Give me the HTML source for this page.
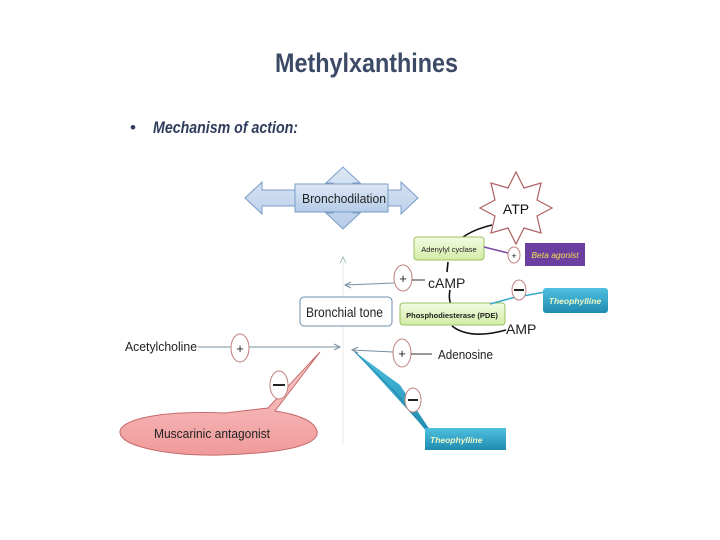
<!DOCTYPE html>
<html><head><meta charset="utf-8"><style>
body{margin:0;background:#fff}
svg{display:block;font-family:"Liberation Sans",sans-serif}
</style></head><body>
<svg width="720" height="540" viewBox="0 0 720 540">
<defs>
<linearGradient id="bl" x1="0" y1="0" x2="0" y2="1"><stop offset="0" stop-color="#dde8f6"/><stop offset="1" stop-color="#b5cbe8"/></linearGradient>
<linearGradient id="gr" x1="0" y1="0" x2="0" y2="1"><stop offset="0" stop-color="#f4fbe4"/><stop offset="1" stop-color="#d3eca5"/></linearGradient>
<linearGradient id="tl" x1="0" y1="0" x2="0" y2="1"><stop offset="0" stop-color="#4fc0e0"/><stop offset="1" stop-color="#1f8bb0"/></linearGradient>
<linearGradient id="pk" x1="0" y1="0" x2="0" y2="1"><stop offset="0" stop-color="#fbd0d0"/><stop offset="1" stop-color="#f09a9a"/></linearGradient>
</defs>
<text x="275" y="72" font-size="27" font-weight="bold" fill="#3d4a66" textLength="183" lengthAdjust="spacingAndGlyphs">Methylxanthines</text>
<text x="130" y="133" font-size="17" fill="#2f3d5c">•</text>
<text x="153" y="133" font-size="17" font-weight="bold" font-style="italic" fill="#2f3d5c" textLength="145" lengthAdjust="spacingAndGlyphs">Mechanism of action:</text>

<!-- bronchodilation arrows -->
<path d="M245,198 L262,182 L262,190 L333,190 L333,183 L326,183 L343,167 L360,183 L353,183 L353,190 L401,190 L401,182 L418,198 L401,214 L401,206 L353,206 L353,213 L360,213 L343,229 L326,213 L333,213 L333,206 L262,206 L262,214 Z" fill="url(#bl)" stroke="#7a9cc6"/>
<rect x="295" y="184" width="93" height="28" fill="url(#bl)" stroke="#7a9cc6"/>
<text x="302" y="203" font-size="13" fill="#222" textLength="84" lengthAdjust="spacingAndGlyphs">Bronchodilation</text>

<!-- vertical line -->
<line x1="343" y1="262" x2="343" y2="445" stroke="#e4e8ee" stroke-width="1"/>
<path d="M340,263 L343,257 L346,263" fill="none" stroke="#8aa" stroke-width="0.8"/>

<!-- ATP star -->
<polygon points="516,172 524,188 541,183 537,200 552,208 537,216 541,233 524,228 516,244 508,228 491,233 495,216 480,208 495,200 491,183 508,188" fill="#fff" stroke="#b06060" stroke-width="1.2"/>
<text x="516" y="214" text-anchor="middle" font-size="14" fill="#111">ATP</text>

<!-- arc -->
<path d="M492,225 Q462,232 450,250 M448,262 L447,272 M450,290 Q448,300 452,306 M452,326 Q470,340 506,330" fill="none" stroke="#111" stroke-width="1.6"/>

<rect x="414" y="237" width="70" height="23" rx="3" fill="url(#gr)" stroke="#9bc060"/>
<text x="449" y="252" text-anchor="middle" font-size="7.5" fill="#222">Adenylyl cyclase</text>
<text x="428" y="288" font-size="14" fill="#222">cAMP</text>
<rect x="400" y="303" width="105" height="22" rx="3" fill="url(#gr)" stroke="#9bc060"/>
<text x="452" y="318" text-anchor="middle" font-size="7.5" font-weight="bold" fill="#222">Phosphodiesterase (PDE)</text>
<text x="506" y="334" font-size="14" fill="#222">AMP</text>

<!-- beta agonist -->
<line x1="484" y1="247" x2="508" y2="253" stroke="#7b4aa8" stroke-width="1.5"/>
<ellipse cx="514" cy="255" rx="6" ry="8" fill="#fff" stroke="#c08080"/>
<text x="514" y="259" text-anchor="middle" font-size="9" fill="#222">+</text>
<rect x="525" y="243" width="60" height="23" fill="#6b3fa0"/>
<text x="555" y="258" text-anchor="middle" font-size="8.5" font-style="italic" fill="#f5e050">Beta agonist</text>

<!-- theophylline top -->
<path d="M490,304 L512,298 L545,292" fill="none" stroke="#3aa8c8" stroke-width="1.5"/>
<ellipse cx="519" cy="290" rx="7" ry="10" fill="#fff" stroke="#c08080"/>
<line x1="514" y1="290" x2="524" y2="290" stroke="#222" stroke-width="2"/>
<rect x="543" y="288" width="65" height="25" rx="3" fill="url(#tl)"/>
<text x="575" y="304" text-anchor="middle" font-size="8.5" font-style="italic" font-weight="bold" fill="#eaf8c8">Theophylline</text>

<!-- cAMP arrow -->
<ellipse cx="403" cy="278" rx="9" ry="13" fill="#fff" stroke="#c08080"/>
<text x="403" y="283" text-anchor="middle" font-size="13" fill="#222">+</text>
<line x1="412" y1="280" x2="425" y2="280" stroke="#333"/>
<line x1="394" y1="283" x2="345" y2="285" stroke="#7890a0"/>
<path d="M351,282 L345,285 L351,288" fill="none" stroke="#7890a0"/>

<!-- bronchial tone -->
<rect x="300" y="297" width="92" height="29" rx="4" fill="#fff" stroke="#6d8fb0"/>
<text x="306" y="317" font-size="14" fill="#222" textLength="77" lengthAdjust="spacingAndGlyphs">Bronchial tone</text>

<!-- muscarinic callout -->
<path d="M320,352 L268,408 L225,413 C150,410 118,422 120,433 C122,447 170,456 220,455 C290,453 320,444 317,431 C314,420 295,414 275,411 Z" fill="url(#pk)" stroke="#c76a6a"/>
<text x="154" y="438" font-size="13" fill="#222" textLength="116" lengthAdjust="spacingAndGlyphs">Muscarinic antagonist</text>
<ellipse cx="279" cy="385" rx="9" ry="14" fill="#fff" stroke="#c08080"/>
<line x1="273" y1="385" x2="285" y2="385" stroke="#222" stroke-width="2"/>

<!-- acetylcholine -->
<text x="125" y="351" font-size="13" fill="#222" textLength="72" lengthAdjust="spacingAndGlyphs">Acetylcholine</text>
<line x1="198" y1="347" x2="231" y2="347" stroke="#7890a0"/>
<ellipse cx="240" cy="348" rx="9" ry="14" fill="#fff" stroke="#c08080"/>
<text x="240" y="353" text-anchor="middle" font-size="13" fill="#222">+</text>
<line x1="249" y1="347" x2="339" y2="347" stroke="#7890a0"/>
<path d="M334,344 L340,347 L334,350" fill="none" stroke="#7890a0"/>

<!-- theophylline bottom callout -->
<path d="M355,352 L400,385 L430,430 L428,432 Z" fill="url(#tl)"/>
<path d="M355,352 L395,392 L426,430" fill="none" stroke="#1f8bb0"/>
<rect x="425" y="428" width="81" height="22" fill="url(#tl)"/>
<text x="430" y="443" font-size="8.5" font-style="italic" font-weight="bold" fill="#eaf8c8">Theophylline</text>
<ellipse cx="413" cy="400" rx="8" ry="12" fill="#fff" stroke="#c08080"/>
<line x1="408" y1="400" x2="418" y2="400" stroke="#222" stroke-width="2"/>

<!-- adenosine -->
<line x1="393" y1="352" x2="352" y2="350" stroke="#7890a0"/>
<path d="M358,347 L352,350 L358,353" fill="none" stroke="#7890a0"/>
<ellipse cx="402" cy="353" rx="9" ry="14" fill="#fff" stroke="#c08080"/>
<text x="402" y="358" text-anchor="middle" font-size="13" fill="#222">+</text>
<line x1="411" y1="354" x2="432" y2="354" stroke="#333"/>
<text x="438" y="359" font-size="13" fill="#222" textLength="55" lengthAdjust="spacingAndGlyphs">Adenosine</text>
</svg>
</body></html>
